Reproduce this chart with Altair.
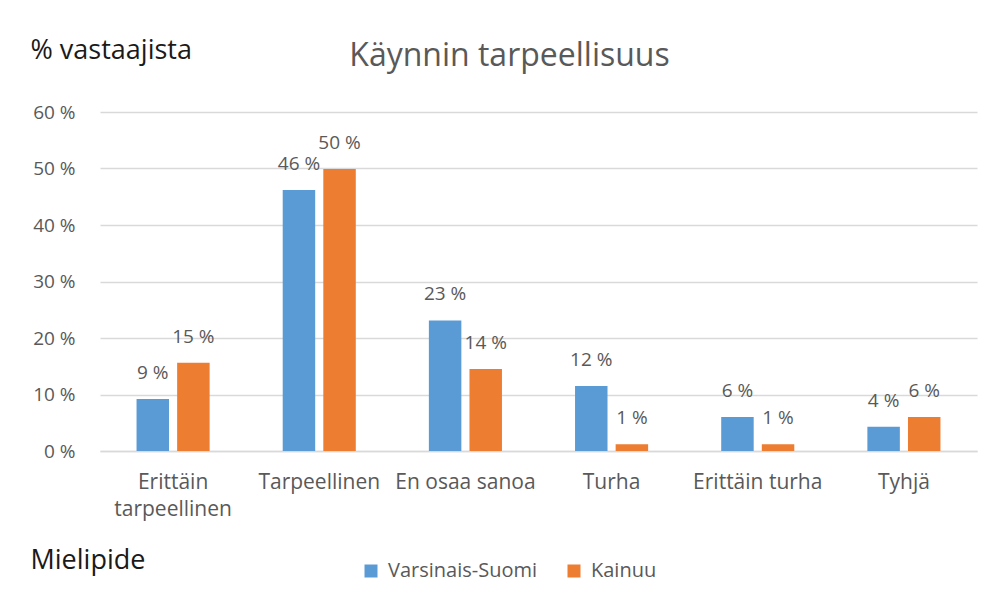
import altair as alt
import pandas as pd

categories = ["Erittäin tarpeellinen", "Tarpeellinen", "En osaa sanoa", "Turha", "Erittäin turha", "Tyhjä"]
series = ["Varsinais-Suomi", "Kainuu"]
vs_values = [9.2, 46.2, 23.1, 11.5, 6.0, 4.3]
ka_values = [15.6, 49.9, 14.5, 1.2, 1.2, 6.0]
vs_labels = [9, 46, 23, 12, 6, 4]
ka_labels = [15, 50, 14, 1, 1, 6]
colors = ["#5b9bd5", "#ed7d31"]

rows = []
for c, v, l in zip(categories, vs_values, vs_labels):
    rows.append({"cat": c, "series": series[0], "value": v, "label": f"{l} %"})
for c, v, l in zip(categories, ka_values, ka_labels):
    rows.append({"cat": c, "series": series[1], "value": v, "label": f"{l} %"})
df = pd.DataFrame(rows)

FONT = "Open Sans"
GREY = "#595959"
DARK = "#1a1a1a"

x_enc = alt.X(
    "cat:N",
    sort=categories,
    scale=alt.Scale(paddingInner=0.5, paddingOuter=0.25),
    axis=alt.Axis(
        title="Mielipide",
        titleFont=FONT, titleFontSize=27, titleFontWeight="normal", titleColor=DARK,
        titleAngle=0, titleAlign="left", titleBaseline="alphabetic",
        titleX=-70, titleY=117, titleAnchor="start",
        labelAngle=0, labelFont=FONT, labelFontSize=21, labelColor=GREY,
        labelPadding=20, labelLineHeight=27,
        labelExpr="datum.label == 'Erittäin tarpeellinen' ? ['Erittäin', 'tarpeellinen'] : datum.label",
        ticks=False, grid=False, domainColor="#d9d9d9", domainWidth=1.5,
    ),
)
xo_enc = alt.XOffset("series:N", sort=series, scale=alt.Scale(paddingInner=0.2))
y_enc = alt.Y(
    "value:Q",
    scale=alt.Scale(domain=[0, 60], nice=False),
    axis=alt.Axis(
        values=[0, 10, 20, 30, 40, 50, 60],
        labelExpr="datum.value + ' %'",
        title="% vastaajista",
        titleFont=FONT, titleFontSize=27, titleFontWeight="normal", titleColor=DARK,
        titleAngle=0, titleAlign="left", titleBaseline="alphabetic",
        titleX=-70, titleY=-54,
        labelFont=FONT, labelFontSize=19, labelColor=GREY, labelPadding=25,
        ticks=False, domain=False,
        gridColor="#d9d9d9", gridWidth=1.5,
    ),
)
color_enc = alt.Color(
    "series:N",
    sort=series,
    scale=alt.Scale(domain=series, range=colors),
    legend=alt.Legend(
        title=None, orient="none", direction="horizontal",
        legendX=261, legendY=449, padding=0,
        symbolType="square", symbolSize=169, symbolStrokeWidth=0,
        labelFont=FONT, labelFontSize=20, labelColor=GREY,
        columnPadding=26, labelOffset=7,
    ),
)

bars = alt.Chart(df).mark_bar().encode(x=x_enc, xOffset=xo_enc, y=y_enc, color=color_enc)
labels = alt.Chart(df).mark_text(
    font=FONT, fontSize=19, color=GREY, baseline="alphabetic", dy=-20
).encode(x=x_enc, xOffset=xo_enc, y=y_enc, text="label:N")

chart = (
    alt.layer(bars, labels)
    .properties(
        width=877,
        height=339,
        background="white",
        title=alt.TitleParams(
            "Käynnin tarpeellisuus", font=FONT, fontSize=32, fontWeight="normal",
            color=GREY, anchor="middle", frame="group", dx=-29, dy=37, offset=0,
        ),
        autosize=alt.AutoSizeParams(type="none"),
        padding={"left": 92, "top": 104, "right": 9, "bottom": 142},
    )
    .configure_view(stroke="transparent", strokeWidth=0)
)

chart.save("out.html", embed_options={"renderer": "svg", "actions": False})
